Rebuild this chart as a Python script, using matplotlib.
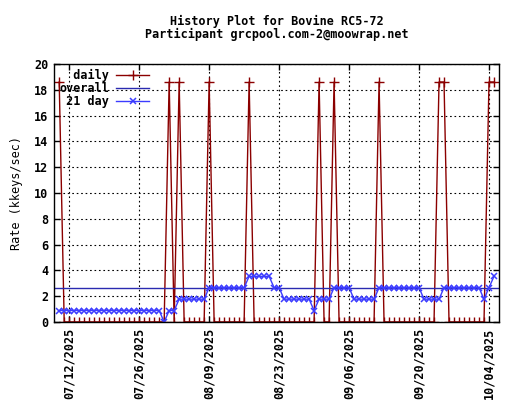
import numpy as np
import matplotlib
matplotlib.use("Agg")
import matplotlib.pyplot as plt
import matplotlib.dates as mdates

plt.rcParams['font.family'] = ['DejaVu Sans Mono']
plt.rcParams['font.weight'] = 'bold'
plt.rcParams['font.size'] = 8.5

# one sample per day, 07/10/2025 .. 10/05/2025
dates = np.arange(np.datetime64('2025-07-10'), np.datetime64('2025-10-06'), np.timedelta64(1, 'D'))

daily = [
    18.6, 0, 0, 0, 0, 0, 0, 0, 0, 0, 0, 0, 0, 0,
    0, 0, 0, 0, 0, 0, 0, 0, 18.6, 0, 18.6, 0, 0, 0,
    0, 0, 18.6, 0, 0, 0, 0, 0, 0, 0, 18.6, 0, 0, 0,
    0, 0, 0, 0, 0, 0, 0, 0, 0, 0, 18.6, 0, 0, 18.6,
    0, 0, 0, 0, 0, 0, 0, 0, 18.6, 0, 0, 0, 0, 0,
    0, 0, 0, 0, 0, 0, 18.6, 18.6, 0, 0, 0, 0, 0, 0,
    0, 0, 18.6, 18.6,
]

day21 = [
    0.89, 0.89, 0.89, 0.89, 0.89, 0.89, 0.89, 0.89, 0.89, 0.89, 0.89, 0.89, 0.89, 0.89,
    0.89, 0.89, 0.89, 0.89, 0.89, 0.89, 0.89, 0, 0.89, 0.89, 1.77, 1.77, 1.77, 1.77,
    1.77, 1.77, 2.66, 2.66, 2.66, 2.66, 2.66, 2.66, 2.66, 2.66, 3.54, 3.54, 3.54, 3.54,
    3.54, 2.66, 2.66, 1.77, 1.77, 1.77, 1.77, 1.77, 1.77, 0.89, 1.77, 1.77, 1.77, 2.66,
    2.66, 2.66, 2.66, 1.77, 1.77, 1.77, 1.77, 1.77, 2.66, 2.66, 2.66, 2.66, 2.66, 2.66,
    2.66, 2.66, 2.66, 1.77, 1.77, 1.77, 1.77, 2.66, 2.66, 2.66, 2.66, 2.66, 2.66, 2.66,
    2.66, 1.77, 2.66, 3.54,
]

overall = 2.6

tick_dates = ['2025-07-12', '2025-07-26', '2025-08-09', '2025-08-23',
              '2025-09-06', '2025-09-20', '2025-10-04']
y_ticks = [0, 2, 4, 6, 8, 10, 12, 14, 16, 18, 20]

fig = plt.figure(figsize=(5.2, 4.0), dpi=100)
ax = fig.add_axes([54 / 520, 1 - 322 / 400, 445 / 520, 258 / 400])

ax.plot(dates, daily, color='#8b0000', lw=1, marker='+', ms=6.5, mew=1,
        label='  daily')
ax.axhline(overall, color='#2a2ab0', lw=1, label='overall')
ax.plot(dates, day21, color='#3c3cff', lw=1, marker='x', ms=4.2, mew=1.1,
        label=' 21 day')

ax.set_xlim(np.datetime64('2025-07-08T23:00'), np.datetime64('2025-10-06T00:00'))
ax.set_ylim(0, 20)
ax.set_yticks(y_ticks)
ax.set_xticks([np.datetime64(d) for d in tick_dates])
ax.xaxis.set_major_formatter(mdates.DateFormatter('%m/%d/%Y'))
plt.setp(ax.get_xticklabels(), rotation=90)

ax.tick_params(direction='in', length=4, width=1, top=True, right=True,
               labelsize=8.5, pad=4)
for s in ax.spines.values():
    s.set_linewidth(1)
ax.grid(True, color='black', ls=(0, (1.5, 2.5)), lw=0.8)

ax.set_ylabel('Rate (kkeys/sec)', labelpad=8)
ax.set_title('History Plot for Bovine RC5-72\nParticipant grcpool.com-2@moowrap.net',
             pad=19, fontsize=8.5, fontweight='bold', linespacing=1.0)

ax.legend(loc='upper left', bbox_to_anchor=(0.0, 1.0), frameon=False,
          markerfirst=False, handlelength=2.8, labelspacing=0.0,
          borderaxespad=0.05, handletextpad=0.6, fontsize=8.5)

fig.savefig('out.png', dpi=100)
